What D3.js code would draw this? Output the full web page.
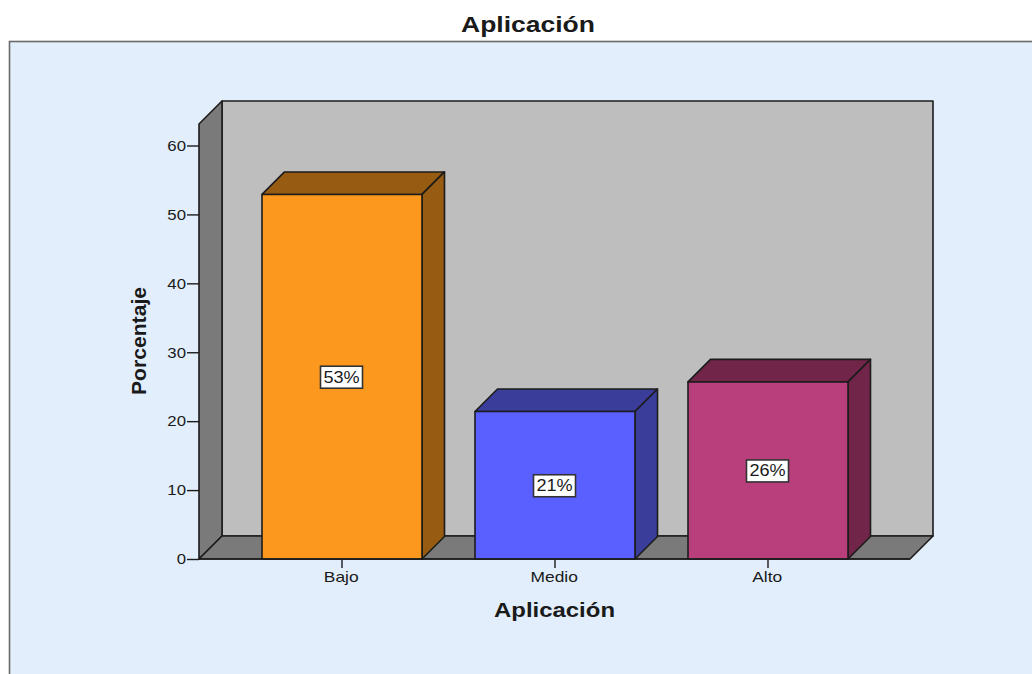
<!DOCTYPE html>
<html lang="es">
<head>
<meta charset="utf-8">
<title>Aplicación</title>
<script src="https://cdn.jsdelivr.net/npm/d3@7"></script>
<style>
  html, body { margin: 0; padding: 0; background: #fff; overflow: hidden; }
  svg { display: block; }
  text { font-family: "Liberation Sans", Arial, sans-serif; fill: #1a1a1a; }
</style>
</head>
<body>
<svg id="chart" width="1032" height="674"></svg>
<script>
// Chart content
const chartTitle = "Aplicación";
const xTitle = "Aplicación";
const yTitle = "Porcentaje";
const categories = ["Bajo", "Medio", "Alto"];
const percentages = [52.9, 21.4, 25.7];
const yTicks = [0, 10, 20, 30, 40, 50, 60];
const faceColors = ["#fb981d", "#5a5fff", "#b93e7c"];
const shadeColors = ["#975b11", "#3a3d9a", "#712549"];

// Oblique depth of the 3D box and of the bars, in pixels
const depth = 23;
const barDepth = 22.5;
const ink = "#1c1c1c";

const svg = d3.select("#chart");

const y = d3.scaleLinear().domain([0, 60]).range([559, 145.5]);
const x = d3.scaleBand().domain(categories).range([262, 848])
  .paddingInner(53 / 213).paddingOuter(0);

const frontLeft = 199, frontRight = 910;
const frontTop = 124, frontBase = y(0);
const poly = pts => pts.map(p => p.join(",")).join(" ");

// Widens or narrows a label to a given ratio of its natural width
function stretch(selection, ratio) {
  selection.each(function () {
    const t = d3.select(this);
    t.attr("lengthAdjust", "spacingAndGlyphs")
      .attr("textLength", this.getComputedTextLength() * ratio);
  });
}

// Outer panel, open on the right and at the bottom
svg.append("rect").attr("x", 9.5).attr("y", 41.5)
  .attr("width", 1040).attr("height", 660)
  .attr("fill", "#e2eefb").attr("stroke", "#6a6a6a").attr("stroke-width", 1.6);

// Titles
svg.append("text").attr("x", 528).attr("y", 32).attr("text-anchor", "middle")
  .attr("font-size", 22).attr("font-weight", "bold")
  .attr("textLength", 134).attr("lengthAdjust", "spacingAndGlyphs")
  .text(chartTitle);
svg.append("text").attr("x", 554.5).attr("y", 617).attr("text-anchor", "middle")
  .attr("font-size", 20).attr("font-weight", "bold")
  .attr("textLength", 121).attr("lengthAdjust", "spacingAndGlyphs")
  .text(xTitle);
svg.append("text").attr("transform", "translate(146,341) rotate(-90)")
  .attr("text-anchor", "middle").attr("font-size", 21).attr("font-weight", "bold")
  .attr("textLength", 108).attr("lengthAdjust", "spacingAndGlyphs")
  .text(yTitle);

// Walls and floor of the 3D box
const walls = svg.append("g").attr("stroke", ink).attr("stroke-width", 1.6)
  .attr("stroke-linejoin", "round");
walls.append("polygon").attr("fill", "#bebebe").attr("points", poly([
  [frontLeft + depth, frontTop - depth], [frontRight + depth, frontTop - depth],
  [frontRight + depth, frontBase - depth], [frontLeft + depth, frontBase - depth]]));
walls.append("polygon").attr("fill", "#7a7a7a").attr("points", poly([
  [frontLeft, frontTop], [frontLeft + depth, frontTop - depth],
  [frontLeft + depth, frontBase - depth], [frontLeft, frontBase]]));
walls.append("polygon").attr("fill", "#7a7a7a").attr("points", poly([
  [frontLeft, frontBase], [frontLeft + depth, frontBase - depth],
  [frontRight + depth, frontBase - depth], [frontRight, frontBase]]));

// Y axis
const yAxis = svg.append("g").attr("transform", `translate(${frontLeft},0)`)
  .call(d3.axisLeft(y).tickValues(yTicks).tickSize(12).tickPadding(1).tickFormat(d3.format("d")));
yAxis.select(".domain").remove();
yAxis.selectAll("line").attr("stroke", ink).attr("stroke-width", 1.4);
yAxis.selectAll("text").attr("font-size", 15).attr("font-family", "Liberation Sans")
  .attr("fill", "#1a1a1a").call(stretch, 1.12);

// Bars, each with a front face, a top and a right side
const bars = svg.append("g").selectAll("g").data(categories).join("g")
  .attr("stroke", ink).attr("stroke-width", 1.6).attr("stroke-linejoin", "round");

bars.append("polygon").attr("fill", (d, i) => shadeColors[i])
  .attr("points", (d, i) => {
    const l = x(d), r = l + x.bandwidth(), t = y(percentages[i]);
    return poly([[l, t], [l + barDepth, t - barDepth], [r + barDepth, t - barDepth], [r, t]]);
  });
bars.append("polygon").attr("fill", (d, i) => shadeColors[i])
  .attr("points", (d, i) => {
    const r = x(d) + x.bandwidth(), t = y(percentages[i]);
    return poly([[r, t], [r + barDepth, t - barDepth], [r + barDepth, y(0) - barDepth], [r, y(0)]]);
  });
bars.append("rect")
  .attr("x", d => x(d)).attr("width", x.bandwidth())
  .attr("y", (d, i) => y(percentages[i]))
  .attr("height", (d, i) => y(0) - y(percentages[i]))
  .attr("fill", (d, i) => faceColors[i]);

// Baseline drawn over the floor, then the category axis
svg.append("line").attr("x1", frontLeft).attr("x2", frontRight)
  .attr("y1", frontBase).attr("y2", frontBase)
  .attr("stroke", ink).attr("stroke-width", 1.6);
const xAxis = svg.append("g").attr("transform", `translate(0,${frontBase})`)
  .call(d3.axisBottom(x).tickSize(9).tickPadding(3));
xAxis.select(".domain").remove();
xAxis.selectAll("line").attr("stroke", ink).attr("stroke-width", 1.4);
xAxis.selectAll("text").attr("font-size", 15).attr("font-family", "Liberation Sans")
  .attr("fill", "#1a1a1a").attr("dx", -0.8).call(stretch, 1.16);

// Value labels in white boxes at mid-height of each bar
const label = d3.format(".0f");
const tags = svg.append("g").selectAll("g").data(categories).join("g")
  .attr("transform", (d, i) =>
    `translate(${x(d) + x.bandwidth() / 2 - 0.5},${y(percentages[i] / 2) + 0.5})`);
tags.append("rect").attr("x", -21).attr("y", -11).attr("width", 42).attr("height", 22)
  .attr("fill", "#fff").attr("stroke", "#333").attr("stroke-width", 1.6);
tags.append("text").attr("text-anchor", "middle").attr("y", 5.5).attr("font-size", 16)
  .text((d, i) => label(percentages[i]) + "%")
  .call(stretch, 1.13);
</script>
</body>
</html>
